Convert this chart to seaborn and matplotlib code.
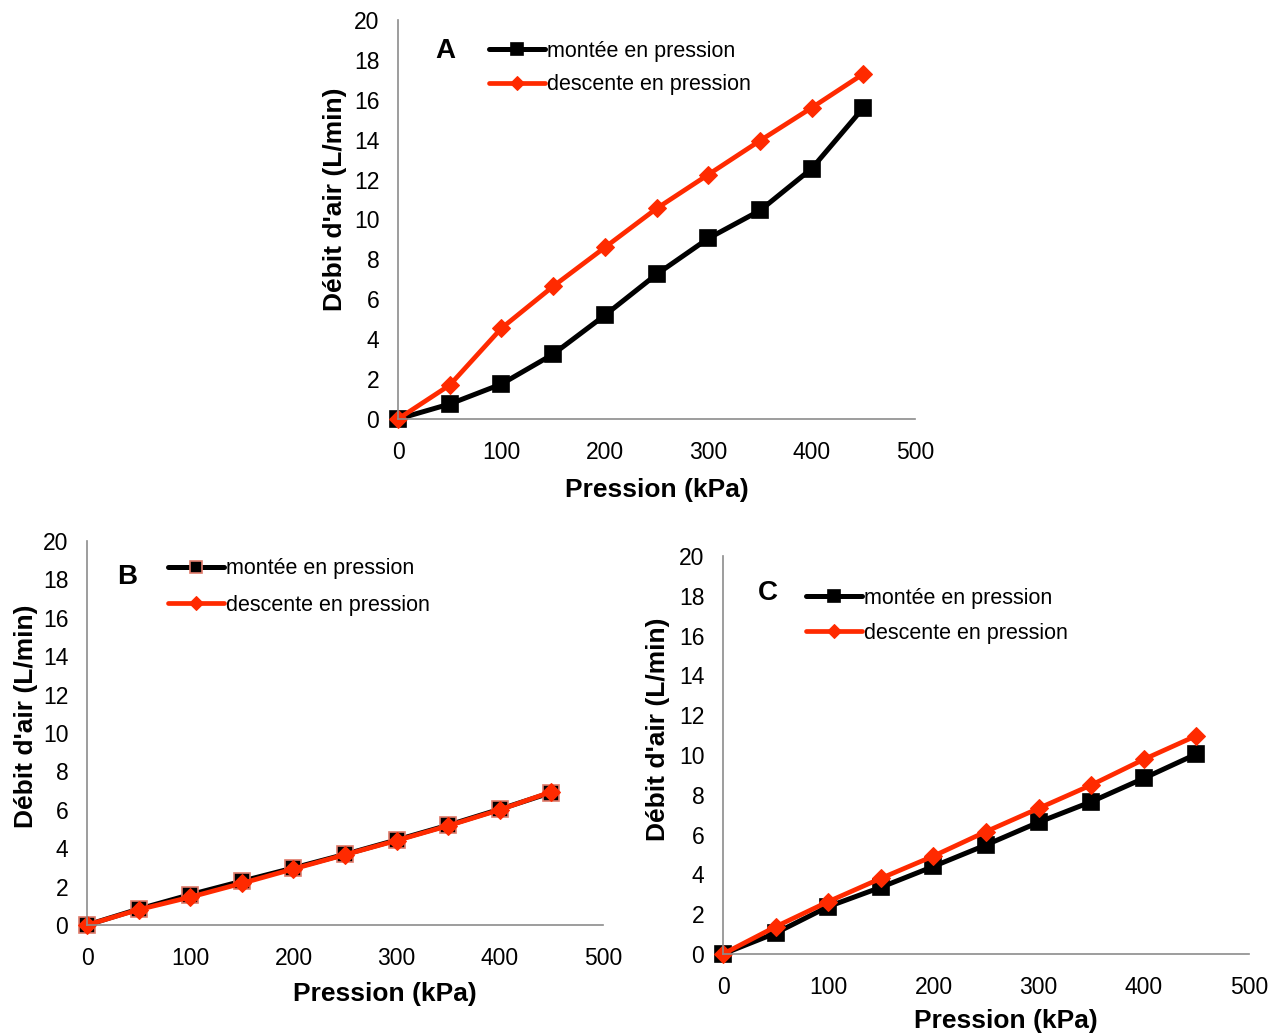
"""Debit d'air en fonction de la pression - trois panneaux (A, B, C)."""

import matplotlib

matplotlib.use("Agg")
import matplotlib.pyplot as plt  # noqa: E402
import seaborn as sns  # noqa: E402

# --- Donnees ---
pression = [0, 50, 100, 150, 200, 250, 300, 350, 400, 450]

montee_a = [0.0, 0.75, 1.75, 3.25, 5.2, 7.25, 9.05, 10.45, 12.55, 15.6]
descente_a = [0.0, 1.7, 4.55, 6.65, 8.6, 10.55, 12.25, 13.95, 15.6, 17.3]

montee_b = [0.0, 0.83, 1.58, 2.28, 2.97, 3.68, 4.43, 5.2, 6.03, 6.9]
descente_b = [0.0, 0.8, 1.45, 2.17, 2.92, 3.66, 4.4, 5.17, 6.0, 6.94]

montee_c = [0.0, 1.05, 2.38, 3.35, 4.4, 5.48, 6.62, 7.65, 8.83, 10.05]
descente_c = [0.0, 1.37, 2.63, 3.8, 4.92, 6.15, 7.32, 8.49, 9.78, 10.97]

x_ticks = [0, 100, 200, 300, 400, 500]
y_ticks = list(range(0, 21, 2))

LBL_MONTEE = "montée en pression"
LBL_DESCENTE = "descente en pression"
RED = "#ff2a00"
GREY = "#8c8c8c"

sns.set_theme(style="white")
plt.rcParams["font.family"] = ["Liberation Sans", "DejaVu Sans"]
plt.rcParams["text.color"] = "black"
plt.rcParams["axes.labelcolor"] = "black"

fig = plt.figure(figsize=(12.82, 10.35), dpi=100)

# position des axes en fraction de figure + reperes du texte (coord. axes)
panels = [
    dict(rect=[0.3105, 0.5952, 0.4033, 0.3855], lettre="A",
         montee=montee_a, descente=descente_a, edge_sq="black",
         lettre_xy=(0.091, 0.922), leg_xy=(0.176, 0.948), spacing=0.59,
         ylab=(-0.122, 0.55), xlab=(0.501, -0.148)),
    dict(rect=[0.0679, 0.1063, 0.4025, 0.371], lettre="B",
         montee=montee_b, descente=descente_b, edge_sq="#e07a6a",
         lettre_xy=(0.078, 0.906), leg_xy=(0.157, 0.955), spacing=0.73,
         ylab=(-0.118, 0.544), xlab=(0.578, -0.148)),
    dict(rect=[0.564, 0.0783, 0.4103, 0.3845], lettre="C",
         montee=montee_c, descente=descente_c, edge_sq="black",
         lettre_xy=(0.0856, 0.907), leg_xy=(0.158, 0.92), spacing=0.64,
         ylab=(-0.124, 0.565), xlab=(0.538, -0.138)),
]

for p in panels:
    ax = fig.add_axes(p["rect"])
    sns.lineplot(x=pression, y=p["montee"], ax=ax, color="black", lw=3.6,
                 marker="s", markersize=11.5, markerfacecolor="black",
                 markeredgecolor=p["edge_sq"], markeredgewidth=1.2,
                 label=LBL_MONTEE)
    sns.lineplot(x=pression, y=p["descente"], ax=ax, color=RED, lw=3.4,
                 marker="D", markersize=9, markerfacecolor=RED,
                 markeredgecolor=RED, label=LBL_DESCENTE)

    ax.set_xlim(0, 500)
    ax.set_ylim(0, 20)
    ax.set_xticks(x_ticks)
    ax.set_yticks(y_ticks)
    ax.tick_params(axis="both", labelsize=16.5, colors=GREY, labelcolor="black",
                   direction="out", width=1.1)
    ax.tick_params(axis="x", length=8, pad=8)
    ax.tick_params(axis="y", length=6, pad=7.5)
    for side in ("top", "right"):
        ax.spines[side].set_visible(False)
    for side in ("left", "bottom"):
        ax.spines[side].set_color(GREY)
        ax.spines[side].set_linewidth(1.2)
    for line in ax.lines:
        line.set_clip_on(False)

    ax.set_xlabel("Pression (kPa)", fontsize=19, fontweight="bold")
    ax.set_ylabel("Débit d'air (L/min)", fontsize=19, fontweight="bold")
    ax.xaxis.set_label_coords(*p["xlab"])
    ax.yaxis.set_label_coords(*p["ylab"])
    ax.yaxis.label.set_verticalalignment("center")

    ax.text(*p["lettre_xy"], p["lettre"], transform=ax.transAxes,
            fontsize=20, fontweight="bold", ha="center", va="center")

    ax.legend(loc="upper left", bbox_to_anchor=p["leg_xy"], frameon=False,
              fontsize=15.5, handlelength=2.6, handletextpad=0.1,
              borderpad=0, borderaxespad=0, labelspacing=p["spacing"],
              markerscale=0.75)

fig.savefig("out.png", dpi=100)
plt.close(fig)
